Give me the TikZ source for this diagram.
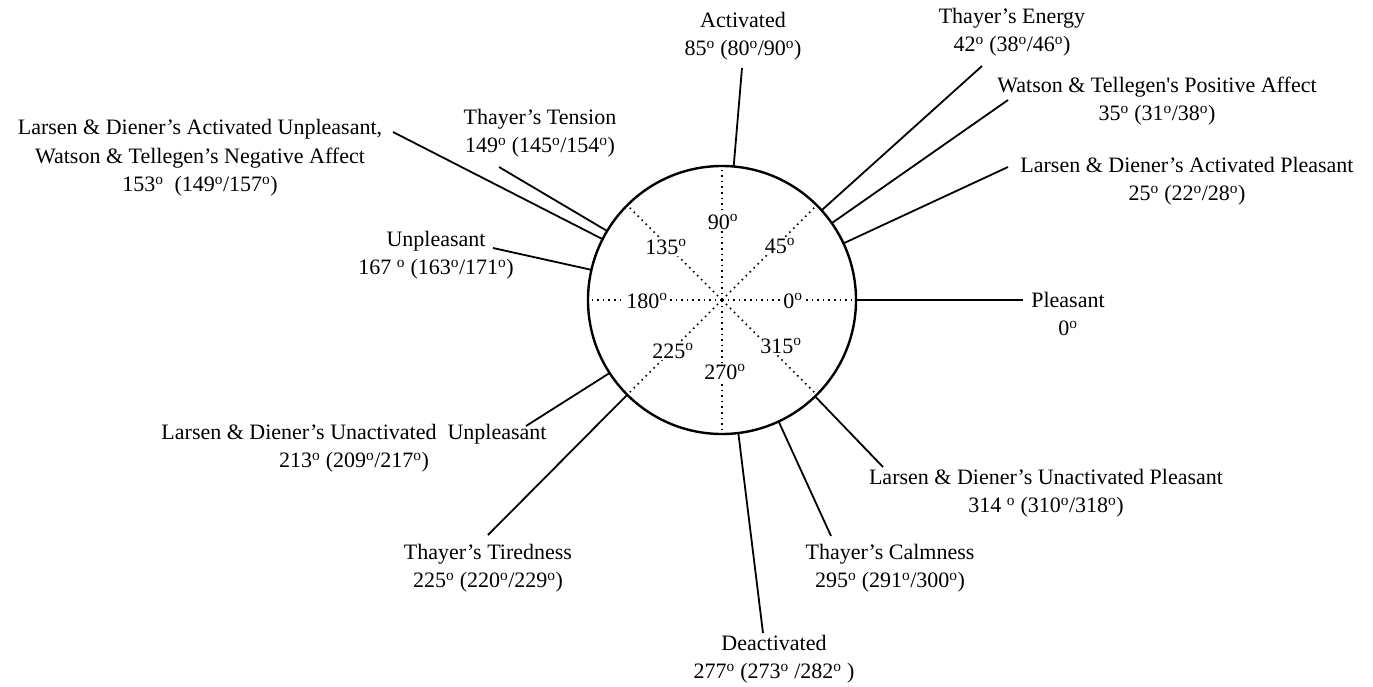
\documentclass[tikz,border=0pt]{standalone}
\usepackage{fontspec}
\usetikzlibrary{calc}
\setmainfont{Liberation Serif}
\newcommand\dg{\textsuperscript{o}}
\begin{document}
\begin{tikzpicture}[x=1pt,y=1pt,
  lbl/.style={align=center,font=\fontsize{22}{28.5}\selectfont,inner sep=0pt},
  inlbl/.style={font=\fontsize{22}{26}\selectfont,fill=white,inner sep=1pt},
  conn/.style={line width=1.8pt},
  axis/.style={line width=1.6pt,dash pattern=on 1.6pt off 4pt}]
\useasboundingbox (0,0) rectangle (1373,-686);
\coordinate (c) at (722,-300);
% dotted axes
\foreach \a in {0,45,...,315}{
  \draw[axis] (c) -- ($(c)+(\a:133)$);
}
\node[circle,draw,line width=2.4pt,minimum size=268pt,inner sep=0pt] (circ) at (c) {};
% inner labels
\node[inlbl] (i90) at (723,-222) {90\dg};
\node[inlbl] (i45) at (780,-246) {45\dg};
\node[inlbl] (i135) at (666,-247) {135\dg};
\node[inlbl] (i180) at (647,-301) {180\dg};
\node[inlbl] (i0) at (793,-301) {0\dg};
\node[inlbl] (i225) at (673,-351) {225\dg};
\node[inlbl] (i315) at (781,-346) {315\dg};
\node[inlbl] (i270) at (725,-372) {270\dg};
% points on circle
\foreach \a in {85,42,35,25,0,314,295,277,225,213,167,153,149}{
  \coordinate (p\a) at ($(c)+(\a:134)$);
}
% outer ends
\coordinate (e85) at (742,-68);
\coordinate (e42) at (982,-66);
\coordinate (e35) at (1008,-100);
\coordinate (e25) at (1008,-167);
\coordinate (e0) at (1023,-300);
\coordinate (e314) at (883,-467);
\coordinate (e295) at (831,-536);
\coordinate (e277) at (763,-633);
\coordinate (e225) at (488,-535);
\coordinate (e213) at (526,-426);
\coordinate (e167) at (493,-248);
\coordinate (e153) at (393,-132);
\coordinate (e149) at (499,-167);
\foreach \a in {85,42,35,25,0,314,295,277,225,213,167,153,149}{
  \draw[conn] (p\a) -- (e\a);
}
% outer labels
\node[lbl] (act) at (743,-36) {Activated\\85\dg\ (80\dg/90\dg)};
\node[lbl] (ene) at (1012,-32) {Thayer’s Energy\\42\dg\ (38\dg/46\dg)};
\node[lbl] (pa) at (1157,-101) {Watson \& Tellegen\textquotesingle s Positive Affect\\35\dg\ (31\dg/38\dg)};
\node[lbl] (ap) at (1187,-181) {Larsen \& Diener’s Activated Pleasant\\25\dg\ (22\dg/28\dg)};
\node[lbl] (ple) at (1068,-314) {Pleasant\\0\dg};
\node[lbl] (up) at (1046,-493) {Larsen \& Diener’s Unactivated Pleasant\\314 \dg\ (310\dg/318\dg)};
\node[lbl] (cal) at (890,-568) {Thayer’s Calmness\\295\dg\ (291\dg/300\dg)};
\node[lbl] (dea) at (774,-659) {Deactivated\\277\dg\ (273\dg\ /282\dg\ )};
\node[lbl] (tir) at (488,-568) {Thayer’s Tiredness\\225\dg\ (220\dg/229\dg)};
\node[lbl] (uu) at (354,-448) {Larsen \& Diener’s Unactivated\ \ Unpleasant\\213\dg\ (209\dg/217\dg)};
\node[lbl] (unp) at (436,-255) {Unpleasant\\167 \dg\ (163\dg/171\dg)};
\node[lbl] (au) at (200,-158) {Larsen \& Diener’s Activated Unpleasant,\\Watson \& Tellegen’s Negative Affect\\153\dg\ \ (149\dg/157\dg)};
\node[lbl] (ten) at (540,-133) {Thayer’s Tension\\149\dg\ (145\dg/154\dg)};
\end{tikzpicture}
\end{document}
